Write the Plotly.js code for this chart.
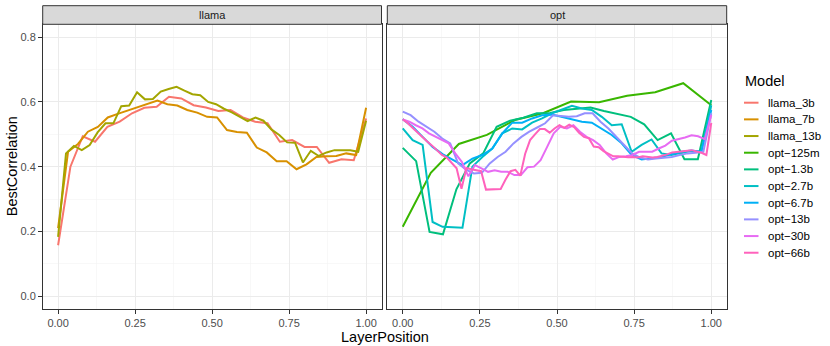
<!DOCTYPE html>
<html>
<head>
<meta charset="utf-8">
<script src="https://cdn.plot.ly/plotly-3.0.1.min.js"></script>
<style>
  html, body { margin: 0; padding: 0; background: #fff; }
  #chart { width: 830px; height: 346px; }
</style>
</head>
<body>
<div id="chart"></div>
<script>
const models = ['llama_3b', 'llama_7b', 'llama_13b', 'opt-125m', 'opt-1.3b',
                'opt-2.7b', 'opt-6.7b', 'opt-13b', 'opt-30b', 'opt-66b'];
const families = ['llama', 'llama', 'llama', 'opt', 'opt', 'opt', 'opt', 'opt', 'opt', 'opt'];
const colors = ['#F8766D', '#D89000', '#A3A500', '#39B600', '#00BF7D',
                '#00BFC4', '#00B0F6', '#9590FF', '#E76BF3', '#FF62BC'];

// best correlation per layer, layers evenly spread over [0, 1]
const llama_3b = [0.157, 0.400, 0.494, 0.477, 0.523, 0.539, 0.565, 0.582, 0.585, 0.616,
  0.611, 0.590, 0.583, 0.572, 0.575, 0.552, 0.539, 0.534, 0.477, 0.482,
  0.461, 0.461, 0.412, 0.423, 0.420, 0.549];
const llama_7b = [0.210, 0.446, 0.470, 0.508, 0.523, 0.552, 0.563, 0.573, 0.583, 0.593,
  0.604, 0.593, 0.589, 0.575, 0.567, 0.554, 0.552, 0.513, 0.507, 0.505,
  0.459, 0.444, 0.417, 0.417, 0.392, 0.407, 0.430, 0.432, 0.433, 0.441,
  0.436, 0.582];
const llama_13b = [0.183, 0.441, 0.464, 0.451, 0.467, 0.506, 0.534, 0.534, 0.587, 0.589,
  0.630, 0.608, 0.609, 0.632, 0.640, 0.647, 0.635, 0.624, 0.621, 0.600,
  0.593, 0.579, 0.568, 0.554, 0.541, 0.552, 0.542, 0.515, 0.498, 0.475,
  0.474, 0.413, 0.449, 0.433, 0.444, 0.451, 0.451, 0.451, 0.446, 0.542];
const opt_125m = [0.214, 0.381, 0.470, 0.498, 0.544, 0.565, 0.601, 0.599, 0.619, 0.630,
  0.658, 0.590];
const opt_1_3b = [0.458, 0.417, 0.198, 0.191, 0.330, 0.410, 0.441, 0.523, 0.542, 0.551,
  0.565, 0.566, 0.575, 0.580, 0.583, 0.572, 0.563, 0.554, 0.531, 0.482,
  0.503, 0.423, 0.423, 0.606];
const opt_2_7b = [0.518, 0.482, 0.467, 0.229, 0.214, 0.212, 0.211, 0.400, 0.430, 0.456,
  0.503, 0.518, 0.515, 0.536, 0.549, 0.565, 0.577, 0.588, 0.580, 0.575,
  0.554, 0.528, 0.531, 0.446, 0.467, 0.484, 0.441, 0.436, 0.443, 0.448,
  0.446, 0.590];
const opt_6_7b = [0.547, 0.523, 0.492, 0.461, 0.439, 0.422, 0.405, 0.425, 0.436, 0.456,
  0.503, 0.536, 0.536, 0.549, 0.559, 0.561, 0.554, 0.547, 0.539, 0.536,
  0.518, 0.498, 0.472, 0.436, 0.422, 0.427, 0.430, 0.439, 0.446, 0.450,
  0.446, 0.575];
const opt_13b = [0.570, 0.559, 0.539, 0.523, 0.508, 0.487, 0.472, 0.410, 0.391, 0.379,
  0.381, 0.410, 0.430, 0.446, 0.472, 0.492, 0.508, 0.521, 0.534, 0.559,
  0.556, 0.554, 0.556, 0.565, 0.565, 0.539, 0.518, 0.492, 0.467, 0.441,
  0.428, 0.422, 0.425, 0.427, 0.430, 0.436, 0.441, 0.443, 0.446, 0.565];
const opt_30b = [0.546, 0.539, 0.528, 0.518, 0.503, 0.492, 0.482, 0.472, 0.441, 0.415,
  0.370, 0.405, 0.395, 0.384, 0.389, 0.384, 0.384, 0.374, 0.374, 0.398,
  0.400, 0.420, 0.461, 0.503, 0.523, 0.518, 0.528, 0.508, 0.492, 0.482,
  0.467, 0.441, 0.422, 0.430, 0.432, 0.436, 0.446, 0.446, 0.446, 0.456,
  0.465, 0.480, 0.484, 0.490, 0.497, 0.494, 0.485, 0.560];
const opt_66b = [0.546, 0.535, 0.520, 0.505, 0.492, 0.478, 0.465, 0.452, 0.436, 0.428,
  0.412, 0.395, 0.332, 0.396, 0.392, 0.389, 0.386, 0.329, 0.330, 0.330,
  0.331, 0.360, 0.386, 0.390, 0.372, 0.440, 0.482, 0.500, 0.516, 0.516,
  0.505, 0.518, 0.528, 0.520, 0.530, 0.522, 0.505, 0.492, 0.488, 0.462,
  0.460, 0.448, 0.440, 0.432, 0.432, 0.430, 0.429, 0.430, 0.428, 0.432,
  0.429, 0.428, 0.430, 0.433, 0.438, 0.444, 0.446, 0.448, 0.450, 0.451,
  0.447, 0.443, 0.436, 0.535];

const series = [llama_3b, llama_7b, llama_13b, opt_125m, opt_1_3b,
                opt_2_7b, opt_6_7b, opt_13b, opt_30b, opt_66b];

const xTicks = [0, 0.25, 0.5, 0.75, 1];
const yTicks = [0, 0.2, 0.4, 0.6, 0.8];

const W = 830, H = 346;
const px = x => x / W;
const py = y => 1 - y / H;

// panel geometry in pixels
const panelTop = 24.3, panelBottom = 309, stripTop = 5.7;
const panels = {llama: [42.7, 381.5], opt: [387.3, 726.7]};

function layerPositions(n) {
  const out = [];
  for (let i = 0; i < n; i++) out.push(i / (n - 1));
  return out;
}

const traces = series.map((ys, k) => ({
  x: layerPositions(ys.length),
  y: ys,
  type: 'scatter',
  mode: 'lines',
  name: models[k],
  line: {color: colors[k], width: 2},
  xaxis: families[k] === 'llama' ? 'x' : 'x2',
  yaxis: families[k] === 'llama' ? 'y' : 'y2',
  showlegend: false,
  hoverinfo: 'skip'
}));

const fontFamily = '"Liberation Sans", Arial, sans-serif';

function xAxis(domain) {
  return {
    domain: domain,
    range: [-0.05, 1.05],
    tickvals: xTicks,
    tickformat: '.2f',
    ticks: 'outside', ticklen: 3.7, tickwidth: 1, tickcolor: '#333333',
    tickfont: {family: fontFamily, size: 11, color: '#4D4D4D'},
    showgrid: true, gridcolor: '#EBEBEB', gridwidth: 1,
    minor: {dtick: 0.125, tick0: 0.125, showgrid: true, gridcolor: '#F4F4F4', gridwidth: 0.6},
    showline: true, linecolor: '#333333', linewidth: 1, mirror: true,
    zeroline: false, fixedrange: true
  };
}

function yAxis(anchor, labels) {
  return {
    domain: [py(panelBottom), py(panelTop)],
    anchor: anchor,
    range: [-0.04, 0.84],
    tickvals: yTicks,
    tickformat: '.1f',
    ticks: labels ? 'outside' : '', ticklen: 3.7, tickwidth: 1, tickcolor: '#333333',
    showticklabels: labels,
    tickfont: {family: fontFamily, size: 11, color: '#4D4D4D'},
    showgrid: true, gridcolor: '#EBEBEB', gridwidth: 1,
    minor: {dtick: 0.2, tick0: 0.1, showgrid: true, gridcolor: '#F4F4F4', gridwidth: 0.6},
    showline: true, linecolor: '#333333', linewidth: 1, mirror: true,
    zeroline: false, fixedrange: true
  };
}

const shapes = [];
const annotations = [];

// facet strips
for (const [name, [x0, x1]] of Object.entries(panels)) {
  shapes.push({
    type: 'rect', xref: 'paper', yref: 'paper',
    x0: px(x0), x1: px(x1), y0: py(panelTop), y1: py(stripTop),
    fillcolor: '#D9D9D9', line: {color: '#333333', width: 1}
  });
  annotations.push({
    text: name, xref: 'paper', yref: 'paper',
    x: px((x0 + x1) / 2), y: py((panelTop + stripTop) / 2),
    xanchor: 'center', yanchor: 'middle', showarrow: false,
    font: {family: fontFamily, size: 11, color: '#1A1A1A'}
  });
}

// axis titles
annotations.push({
  text: 'LayerPosition', xref: 'paper', yref: 'paper',
  x: px((panels.llama[0] + panels.opt[1]) / 2), y: py(336.5),
  xanchor: 'center', yanchor: 'middle', showarrow: false,
  font: {family: fontFamily, size: 14.5, color: '#000000'}
});
annotations.push({
  text: 'BestCorrelation', xref: 'paper', yref: 'paper',
  x: px(11.5), y: py((panelTop + panelBottom) / 2), textangle: -90,
  xanchor: 'center', yanchor: 'middle', showarrow: false,
  font: {family: fontFamily, size: 14.5, color: '#000000'}
});

// legend, drawn by hand to keep ggplot's key spacing (R prints '-' as a minus sign)
annotations.push({
  text: 'Model', xref: 'paper', yref: 'paper',
  x: px(742.5), y: py(80.7), xanchor: 'left', yanchor: 'middle', showarrow: false,
  font: {family: fontFamily, size: 14.5, color: '#000000'}
});
models.forEach((m, k) => {
  const yc = 102.7 + k * 16.67;
  shapes.push({
    type: 'line', xref: 'paper', yref: 'paper',
    x0: px(744), x1: px(758.5), y0: py(yc), y1: py(yc),
    line: {color: colors[k], width: 2}
  });
  annotations.push({
    text: m.replace('-', '\u2212'), xref: 'paper', yref: 'paper',
    x: px(766), y: py(yc), xanchor: 'left', yanchor: 'middle', showarrow: false,
    font: {family: fontFamily, size: 11.5, color: '#000000'}
  });
});

const layout = {
  width: W, height: H,
  margin: {l: 0, r: 0, t: 0, b: 0},
  paper_bgcolor: '#FFFFFF',
  plot_bgcolor: '#FFFFFF',
  showlegend: false,
  xaxis: xAxis([px(panels.llama[0]), px(panels.llama[1])]),
  yaxis: yAxis('x', true),
  xaxis2: xAxis([px(panels.opt[0]), px(panels.opt[1])]),
  yaxis2: yAxis('x2', false),
  shapes: shapes,
  annotations: annotations
};
layout.xaxis.anchor = 'y';
layout.xaxis2.anchor = 'y2';

Plotly.newPlot('chart', traces, layout, {displayModeBar: false, staticPlot: true});
</script>
</body>
</html>
